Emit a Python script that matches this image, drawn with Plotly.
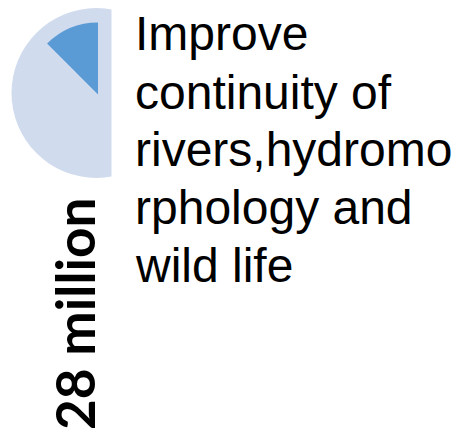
import plotly.graph_objects as go

W, H = 467, 438
OFF = 8  # default page margin of the html body

# data
slice_labels = ["Rest", "Improve continuity"]
slice_values = [87.5, 12.5]
amount_label = "28 million"
category_lines = ["Improve", "continuity of", "rivers,hydromo", "rphology and", "wild life"]

def px(x):
    return (x - OFF) / W

def py(y):
    return 1 - (y - OFF) / H

fig = go.Figure()

# background full circle
cx0, cy0, r0 = 96.5, 93.0, 85.0
fig.add_trace(go.Pie(
    values=[sum(slice_values)], labels=["total"],
    marker=dict(colors=["#D0DBEE"], line=dict(width=0)),
    textinfo="none", hoverinfo="skip", sort=False, showlegend=False,
    domain=dict(x=[px(cx0 - r0), px(cx0 + r0)], y=[py(cy0 + r0), min(1.0, py(cy0 - r0))]),
))

# highlighted wedge (smaller radius), ending at 12 o'clock
cx1, cy1, r1 = 98.0, 94.5, 72.0
fig.add_trace(go.Pie(
    values=slice_values, labels=slice_labels,
    marker=dict(colors=["rgba(0,0,0,0)", "#5B9BD5"], line=dict(width=0)),
    textinfo="none", hoverinfo="skip", sort=False, showlegend=False,
    direction="clockwise", rotation=0,
    domain=dict(x=[px(cx1 - r1), px(cx1 + r1)], y=[py(cy1 + r1), py(cy1 - r1)]),
))

shapes = [dict(type="rect", xref="paper", yref="paper", x0=px(111.5), x1=1.2, y0=-0.2, y1=1.2,
               fillcolor="white", line=dict(width=0), layer="above")]

annotations = []
fs = 48
baselines = [51, 110, 167, 225, 283]
for line, b in zip(category_lines, baselines):
    annotations.append(dict(
        text=line, x=px(133), y=py(b - 0.37 * fs), xref="paper", yref="paper",
        xanchor="left", yanchor="middle", showarrow=False,
        font=dict(family="Liberation Sans, Arial, sans-serif", size=fs, color="black"),
    ))

annotations.append(dict(
    text="<b>" + amount_label + "</b>", x=px(74), y=py(314), xref="paper", yref="paper",
    xanchor="center", yanchor="middle", textangle=-90, showarrow=False,
    font=dict(family="Lato, sans-serif", size=53, color="black"),
))

fig.update_layout(
    width=W, height=H, margin=dict(l=0, r=0, t=0, b=0),
    paper_bgcolor="white", plot_bgcolor="white",
    shapes=shapes, annotations=annotations,
)

fig.write_html("out.html")
